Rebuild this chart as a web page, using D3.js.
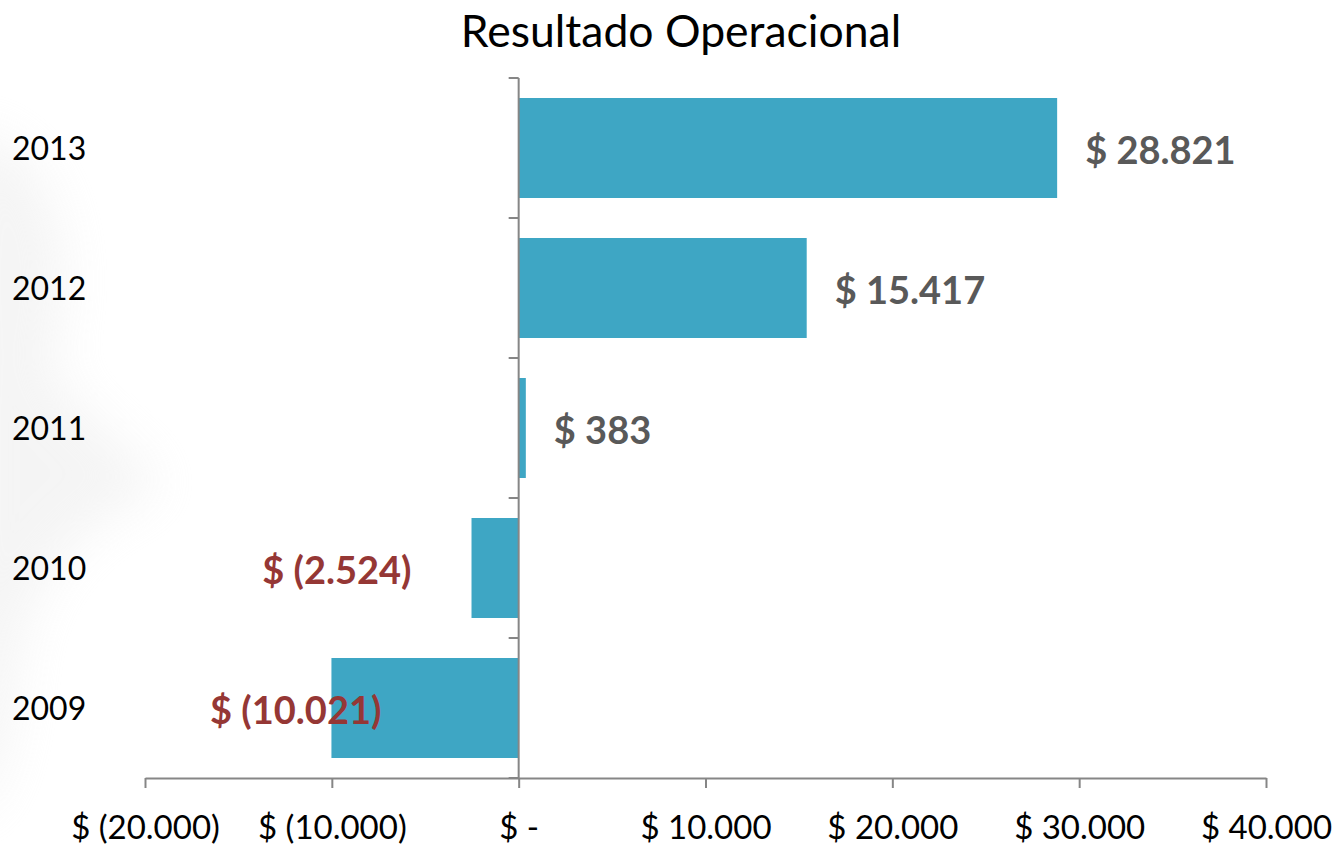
<!DOCTYPE html>
<html><head><meta charset="utf-8">
<script src="https://cdn.jsdelivr.net/npm/d3@7/dist/d3.min.js"></script>
<style>body{margin:0;background:#fff}svg{display:block}</style>
</head><body>
<svg id="c" width="1335" height="845"></svg>
<script>
const categories = ["2013","2012","2011","2010","2009"];
const values = [28821, 15417, 383, -2524, -10021];
const valueLabels = ["$ 28.821","$ 15.417","$ 383","$ (2.524)","$ (10.021)"];
const tickValues = [-20000,-10000,0,10000,20000,30000,40000];
const tickLabels = ["$ (20.000)","$ (10.000)","$ -","$ 10.000","$ 20.000","$ 30.000","$ 40.000"];
const title = "Resultado Operacional";

const svg = d3.select("#c");
const FONT = "Lato, 'Open Sans', sans-serif";
const axisColor = "#868686";

// faint background swoosh
const defs = svg.append("defs");
defs.append("filter").attr("id","blur").attr("x","-50%").attr("y","-50%").attr("width","200%").attr("height","200%")
  .append("feGaussianBlur").attr("stdDeviation",25);
svg.append("path")
  .attr("d","M-40,130 C60,140 80,260 50,370 C90,430 150,460 160,490 C100,510 40,560 20,640 C10,720 10,800 -40,820 Z")
  .attr("fill","#e8e8e8").attr("opacity",0.45).attr("filter","url(#blur)");

const x = d3.scaleLinear().domain([-20000,40000]).range([145,1266]);
const y = d3.scaleBand().domain(categories).range([78,778]).paddingInner(2/7).paddingOuter(1/7);

// title
svg.append("text").attr("x",681).attr("y",47).attr("text-anchor","middle")
  .attr("font-family",FONT).attr("font-size",44.5).attr("fill","#000").text(title);

// bars
svg.append("g").selectAll("rect").data(values).join("rect")
  .attr("x",d=>x(Math.min(0,d))).attr("y",(d,i)=>y(categories[i]))
  .attr("width",d=>Math.abs(x(d)-x(0))).attr("height",y.bandwidth())
  .attr("fill","#3EA6C4");

// x axis
const xAxis = d3.axisBottom(x).tickValues(tickValues).tickSize(10).tickSizeOuter(0)
  .tickFormat((d,i)=>tickLabels[i]);
const gx = svg.append("g").attr("transform","translate(0,778)").call(xAxis);
gx.select(".domain").attr("stroke",axisColor).attr("stroke-width",2);
gx.selectAll(".tick line").attr("stroke",axisColor).attr("stroke-width",2);
gx.selectAll(".tick text").attr("font-family",FONT).attr("font-size",33).attr("fill","#000").attr("dy","0").attr("y",61);

// y axis line and boundary ticks
const x0 = x(0);
const gy = svg.append("g");
gy.append("line").attr("x1",x0).attr("x2",x0).attr("y1",y.range()[0]).attr("y2",y.range()[1])
  .attr("stroke",axisColor).attr("stroke-width",2);
const bounds = categories.map(c=>y(c)-y.step()*y.paddingInner()/2).concat([y.range()[1]]);
gy.selectAll("line.t").data(bounds).join("line").attr("class","t")
  .attr("x1",x0-10).attr("x2",x0).attr("y1",d=>d).attr("y2",d=>d)
  .attr("stroke",axisColor).attr("stroke-width",2);
gy.selectAll("text").data(categories).join("text")
  .attr("x",12).attr("y",d=>y(d)+y.bandwidth()/2).attr("dy","0.36em")
  .attr("font-family",FONT).attr("font-size",32).attr("fill","#000").text(d=>d);

// value labels
const negDx = {"2010":-60, "2009":50};
svg.append("g").selectAll("text").data(values).join("text")
  .attr("x",(d,i)=> d>=0 ? x(d)+28 : x(d)+negDx[categories[i]])
  .attr("y",(d,i)=>y(categories[i])+y.bandwidth()/2+2).attr("dy","0.36em")
  .attr("text-anchor",d=>d>=0?"start":"end")
  .attr("font-family",FONT).attr("font-weight","bold").attr("font-size",38)
  .attr("fill",d=>d>=0?"#595959":"#953735")
  .text((d,i)=>valueLabels[i]);
</script>
</body></html>
